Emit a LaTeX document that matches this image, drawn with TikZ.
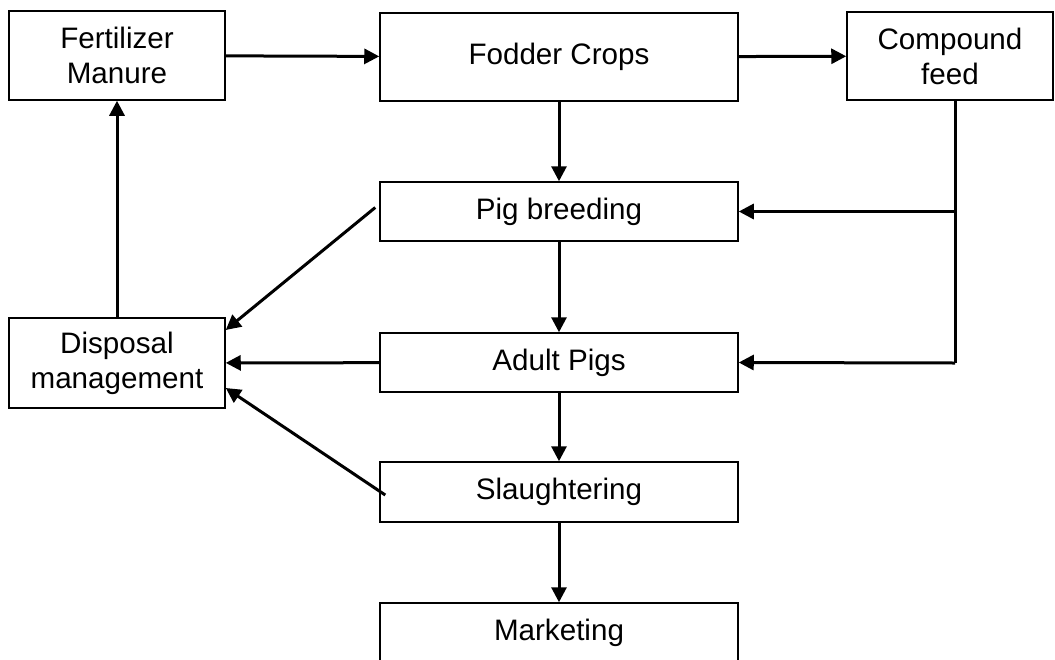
\documentclass[tikz,border=0pt]{standalone}
\usepackage{fontspec}
\setmainfont{Liberation Sans}
\usetikzlibrary{arrows.meta}

\begin{document}
\begin{tikzpicture}[x=0.5pt,y=-0.5pt]

      \useasboundingbox (0,0) rectangle (1055,659);
      \clip (0,0) rectangle (1055,659);

      \begin{scope}[every node/.style={draw,line width=0.75pt,inner sep=0pt,align=center,
          font=\fontsize{14.8}{17.5}\selectfont}]
        \node[minimum width=108pt,minimum height=44.5pt] (fert) at (117,55.5) {Fertilizer\\Manure};
        \node[minimum width=179pt,minimum height=44pt] (fodder) at (559,57) {Fodder Crops};
        \node[minimum width=103pt,minimum height=44pt] (compound) at (950,56) {Compound\\feed};
        \node[minimum width=179pt,minimum height=29.5pt] (breeding) at (559,211.5) {Pig breeding};
        \node[minimum width=108pt,minimum height=45pt] (disposal) at (117,363) {Disposal\\management};
        \node[minimum width=179pt,minimum height=29.5pt] (adult) at (559,362.5) {Adult Pigs};
        \node[minimum width=179pt,minimum height=30pt] (slaughter) at (559,492) {Slaughtering};
        \node[minimum width=179pt,minimum height=30pt] (marketing) at (559,633) {Marketing};
      \end{scope}

      \coordinate (feedjoin) at (955,363);

      \begin{scope}[every edge/.style={draw,line width=1.5pt,-{Triangle[length=7.5pt,width=7.5pt]}}]
        \path (fert) edge (fodder);
        \path (fodder) edge (compound);
        \path (fodder) edge (breeding);
        \path (breeding) edge (adult);
        \path (adult) edge (slaughter);
        \path (slaughter) edge (marketing);
        \path (disposal) edge (fert);
        \path (adult) edge (disposal);
        \path ([xshift=-2pt,yshift=2pt]breeding.west) edge ([yshift=16.5pt]disposal.east);
        \path ([xshift=3pt,yshift=-1.5pt]slaughter.west) edge ([yshift=-12.5pt]disposal.east);
        \path (feedjoin |- breeding.east) edge (breeding.east);
        \path (feedjoin) edge (adult.east);
      \end{scope}

      \draw[line width=1.5pt] (compound.south -| feedjoin) -- (feedjoin);

    \end{tikzpicture}
\end{document}
